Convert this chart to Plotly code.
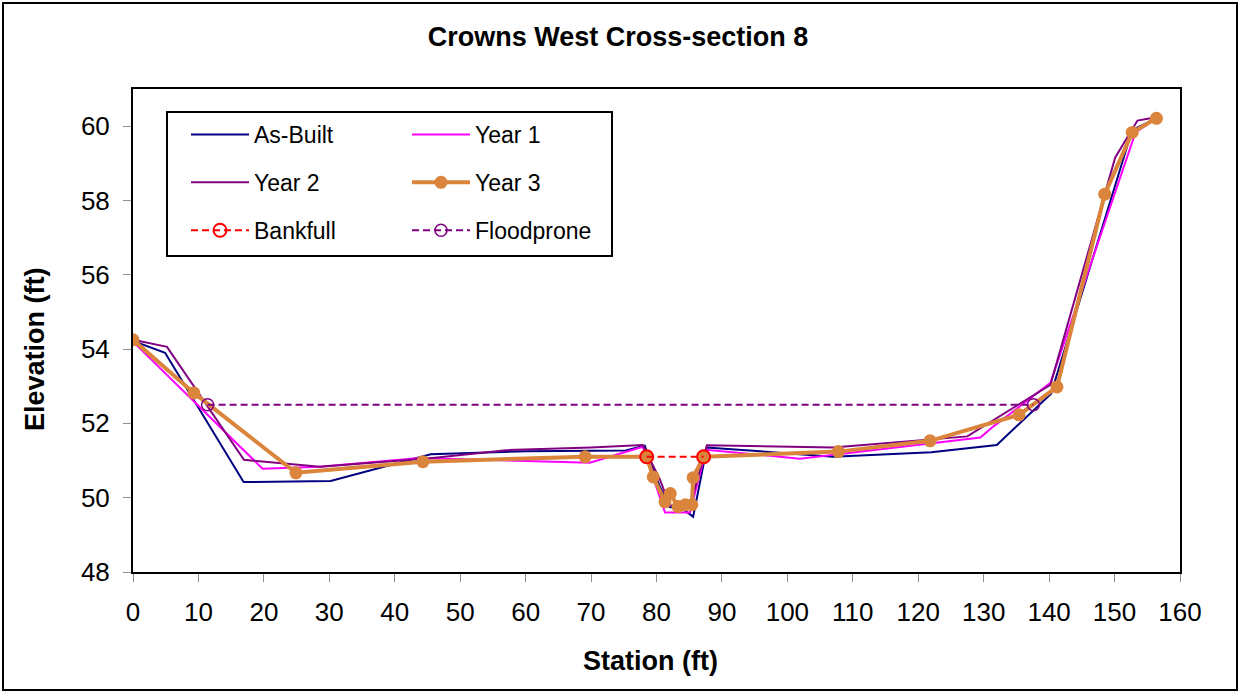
import plotly.graph_objects as go

# ---------------- data ----------------
asbuilt_x = [0, 4.9, 16.9, 30.2, 45.5, 60, 75.3, 78.2, 80.5, 82.0, 84.0, 85.6, 87.7, 92, 107, 122, 132, 140.3, 152.7, 156.3]
asbuilt_y = [54.22, 53.9, 50.42, 50.45, 51.17, 51.25, 51.27, 51.40, 50.30, 49.75, 49.70, 49.49, 51.35, 51.30, 51.10, 51.22, 51.42, 52.80, 59.90, 60.20]

year1_x = [0, 19.8, 28.5, 43.8, 69.8, 77.9, 81.3, 85.1, 87.6, 101.9, 129.5, 131.5, 140.2, 153.2, 156.3]
year1_y = [54.20, 50.78, 50.83, 51.07, 50.94, 51.37, 49.60, 49.60, 51.29, 51.05, 51.62, 51.92, 53.09, 59.83, 60.20]

year2_x = [0, 5.2, 16.96, 28.6, 45.4, 57, 70, 77.9, 80.5, 82.0, 85.0, 87.7, 107, 127.5, 140.2, 150.1, 153.5, 155.5]
year2_y = [54.25, 54.06, 51.02, 50.83, 51.06, 51.28, 51.35, 51.42, 50.50, 49.80, 49.70, 51.41, 51.35, 51.65, 53.04, 59.16, 60.15, 60.21]

year3_x = [0, 9.3, 24.9, 44.3, 69.1, 78.5, 79.5, 81.3, 82.1, 83.3, 84.4, 85.4, 85.6, 87.2, 107.8, 121.8, 135.4, 141.2, 148.5, 152.7, 156.4]
year3_y = [54.25, 52.82, 50.67, 50.97, 51.10, 51.10, 50.56, 49.89, 50.11, 49.76, 49.81, 49.81, 50.54, 51.10, 51.24, 51.53, 52.23, 52.98, 58.17, 59.83, 60.21]

bankfull_x = [78.5, 87.2]
bankfull_y = [51.1, 51.1]

floodprone_x = [11.4, 137.6]
floodprone_y = [52.5, 52.5]

x_ticks = [0, 10, 20, 30, 40, 50, 60, 70, 80, 90, 100, 110, 120, 130, 140, 150, 160]
y_ticks = [48, 50, 52, 54, 56, 58, 60]

FONT = "Liberation Sans, Arial, sans-serif"

fig = go.Figure()

fig.add_trace(go.Scatter(x=asbuilt_x, y=asbuilt_y, mode="lines", name="As-Built",
                         line=dict(color="#000080", width=2), legend="legend", legendgroup="a"))
fig.add_trace(go.Scatter(x=year1_x, y=year1_y, mode="lines", name="Year 1",
                         line=dict(color="#FF00FF", width=2), legend="legend2", legendgroup="b"))
fig.add_trace(go.Scatter(x=year2_x, y=year2_y, mode="lines", name="Year 2",
                         line=dict(color="#800080", width=2), legend="legend", legendgroup="c"))
fig.add_trace(go.Scatter(x=year3_x, y=year3_y, mode="lines+markers", name="Year 3",
                         line=dict(color="#DA843C", width=4),
                         marker=dict(color="#DA843C", size=13, symbol="circle"),
                         legend="legend2", legendgroup="d"))
fig.add_trace(go.Scatter(x=bankfull_x, y=bankfull_y, mode="lines+markers", name="Bankfull",
                         line=dict(color="#FF0000", width=2, dash="7px,4px"),
                         marker=dict(color="#FF0000", size=13, symbol="circle-open", line=dict(width=2)),
                         legend="legend", legendgroup="e"))
fig.add_trace(go.Scatter(x=floodprone_x, y=floodprone_y, mode="lines+markers", name="Floodprone",
                         line=dict(color="#800080", width=2, dash="7px,4px"),
                         marker=dict(color="#800080", size=12, symbol="circle-open", line=dict(width=1.5)),
                         legend="legend2", legendgroup="f"))

W, H = 1241, 694
L, R, T, B = 133, 61, 89, 122
pw = W - L - R
ph = H - T - B

def px(xp):
    return (xp - L) / pw

def py(yp):
    return (H - B - yp) / ph

legend_common = dict(font=dict(family=FONT, size=23, color="black"),
                     bgcolor="rgba(0,0,0,0)", borderwidth=0, itemwidth=58,
                     tracegroupgap=15, yanchor="top", xanchor="left", itemclick=False)

fig.update_layout(
    width=W, height=H,
    margin=dict(l=L, r=R, t=T, b=B),
    paper_bgcolor="white", plot_bgcolor="white",
    font=dict(family=FONT, color="black"),
    title=dict(text="<b>Crowns West Cross-section 8</b>", x=px(618), xref="paper", xanchor="center",
               y=1 - 37 / H, yref="container", yanchor="middle",
               font=dict(family=FONT, size=27, color="black")),
    legend=dict(x=px(186), y=py(113), **legend_common),
    legend2=dict(x=px(407), y=py(113), **legend_common),
    xaxis=dict(range=[0, 160], tickvals=x_ticks, showgrid=False, zeroline=False,
               showline=True, linecolor="black", linewidth=2, mirror=True,
               ticks="outside", ticklen=8, tickcolor="#909090", tickwidth=1,
               tickfont=dict(family=FONT, size=26, color="black"), ticklabelstandoff=8),
    yaxis=dict(range=[48, 61], tickvals=y_ticks, showgrid=False, zeroline=False,
               showline=True, linecolor="black", linewidth=2, mirror=True,
               ticks="outside", ticklen=8, tickcolor="#909090", tickwidth=1,
               tickfont=dict(family=FONT, size=26, color="black"), ticklabelstandoff=8),
    showlegend=True,
)

fig.add_annotation(text="<b>Station (ft)</b>", x=px(650), y=py(661), xref="paper", yref="paper",
                   showarrow=False, xanchor="center", yanchor="middle",
                   font=dict(family=FONT, size=27, color="black"))
fig.add_annotation(text="<b>Elevation (ft)</b>", x=px(35), y=py(349), xref="paper", yref="paper",
                   showarrow=False, xanchor="center", yanchor="middle", textangle=-90,
                   font=dict(family=FONT, size=27, color="black"))

# legend box
fig.add_shape(type="rect", xref="paper", yref="paper", x0=px(167), x1=px(612), y0=py(256), y1=py(112),
              line=dict(color="black", width=2), fillcolor="rgba(0,0,0,0)", layer="above")
# outer chart border
fig.add_shape(type="rect", xref="paper", yref="paper", x0=px(3), x1=px(1237), y0=py(690), y1=py(3),
              line=dict(color="black", width=2), fillcolor="rgba(0,0,0,0)", layer="above")

fig.write_html("out.html", config={"displayModeBar": False},
               post_script="document.body.style.margin='0px';document.body.style.overflow='hidden';")
